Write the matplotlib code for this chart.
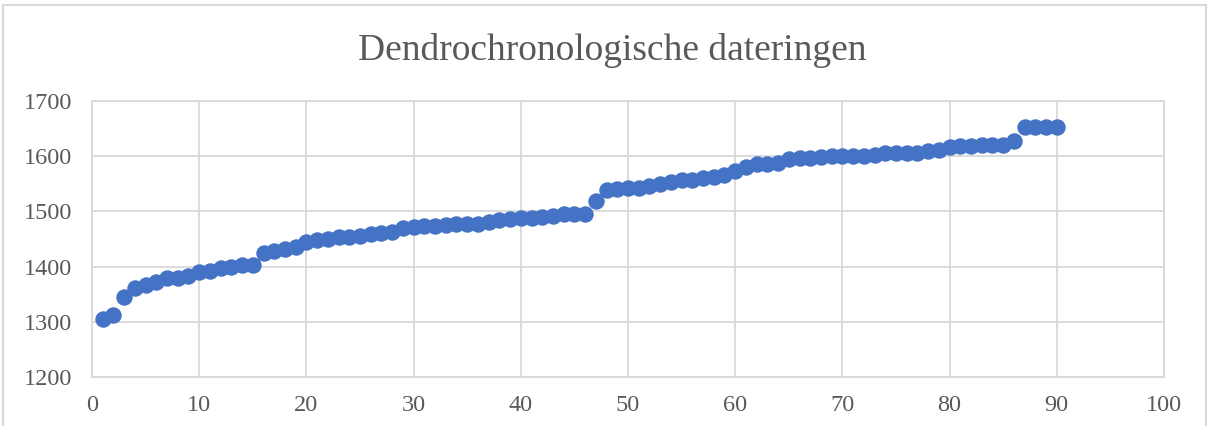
import matplotlib
matplotlib.use("Agg")
import matplotlib.pyplot as plt
from matplotlib.patches import Rectangle

title = "Dendrochronologische dateringen"
x_values = list(range(1, 91))
years = [1305, 1312, 1345, 1362, 1367, 1373, 1380, 1380, 1383, 1390,
         1392, 1398, 1400, 1402, 1403, 1425, 1428, 1432, 1435, 1445,
         1449, 1450, 1453, 1453, 1456, 1459, 1460, 1463, 1470, 1472,
         1474, 1474, 1475, 1477, 1478, 1478, 1481, 1484, 1486, 1488,
         1488, 1490, 1492, 1495, 1495, 1495, 1518, 1538, 1540, 1542,
         1543, 1546, 1549, 1553, 1556, 1556, 1560, 1563, 1566, 1574,
         1580, 1585, 1585, 1588, 1595, 1596, 1596, 1598, 1600, 1600,
         1600, 1600, 1603, 1606, 1606, 1606, 1606, 1610, 1612, 1617,
         1618, 1618, 1620, 1620, 1620, 1628, 1652, 1652, 1652, 1652]
x_ticks = list(range(0, 101, 10))
y_ticks = list(range(1200, 1701, 100))

plt.rcParams['font.family'] = ['Liberation Serif', 'DejaVu Serif']

fig = plt.figure(figsize=(12.1, 4.26), dpi=100)
fig.patches.append(Rectangle((3/1210, -0.1), 1203/1210, 1 - 5/426 + 0.1,
                             transform=fig.transFigure, fill=False,
                             edgecolor='#d9d9d9', linewidth=1.5))
ax = fig.add_axes([92/1210, 1 - 377/426, (1164-92)/1210, (377-101)/426])

ax.scatter(x_values, years, s=140, color='#4472c4', zorder=3, linewidths=0)
ax.set_xlim(0, 100)
ax.set_ylim(1200, 1700)
ax.set_xticks(x_ticks)
ax.set_yticks(y_ticks)
ax.grid(True, color='#d9d9d9', linewidth=1.3)
ax.set_axisbelow(True)
for s in ax.spines.values():
    s.set_color('#d9d9d9')
    s.set_linewidth(1.3)
ax.tick_params(length=0, labelsize=17.5, labelcolor='#595959', pad=14)
ax.tick_params(axis='x', pad=13)

fig.text(612/1210, 1 - 50/426, title, ha='center', va='center',
         fontsize=27, color='#595959')

fig.savefig("out.png", dpi=100)
